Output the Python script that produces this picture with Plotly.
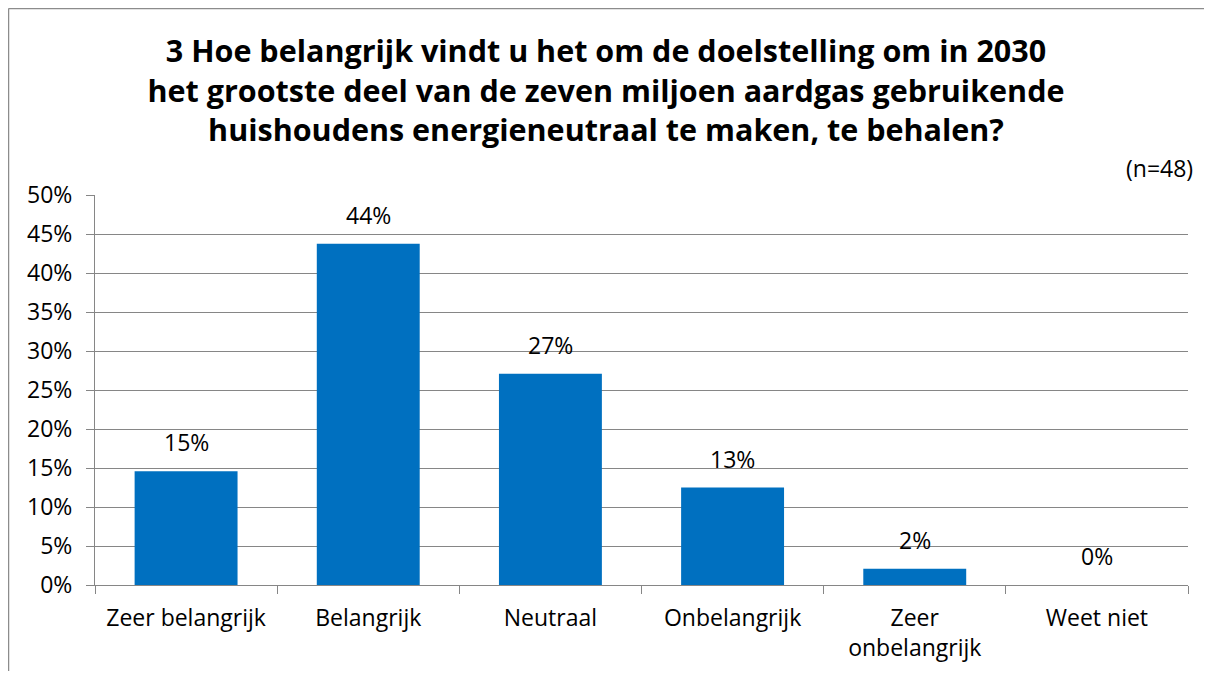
import plotly.graph_objects as go

categories = ["Zeer belangrijk", "Belangrijk", "Neutraal", "Onbelangrijk", "Zeer<br>onbelangrijk", "Weet niet"]
values = [14.58, 43.75, 27.08, 12.5, 2.08, 0.0]
labels = ["15%", "44%", "27%", "13%", "2%", "0%"]
y_ticks = [0, 5, 10, 15, 20, 25, 30, 35, 40, 45, 50]
y_ticklabels = [f"{v}%" for v in y_ticks]

# page body has an 8px margin; figure sized to fit the window
W, H = 1196, 663
L, T = 87, 187
R, B = W - 1180, H - 577
pw, ph = W - L - R, H - T - B

font = "Open Sans"
fs = 23

fig = go.Figure(go.Bar(
    x=categories, y=values,
    marker=dict(color="#0070C0", line=dict(width=0)),
    hoverinfo="x+y",
))

for c, v, t in zip(categories, values, labels):
    fig.add_annotation(
        x=c, y=v, text=t, showarrow=False, yanchor="bottom", yshift=11,
        font=dict(size=fs, family=font, color="#000000"),
    )

fig.update_layout(
    width=W, height=H,
    margin=dict(l=L, r=R, t=T, b=B, autoexpand=False),
    paper_bgcolor="white", plot_bgcolor="white",
    bargap=0.435,
    showlegend=False,
    font=dict(family=font, size=fs, color="#000000"),
    title=dict(
        text="<b>3 Hoe belangrijk vindt u het om de doelstelling om in 2030<br>het grootste deel van de zeven miljoen aardgas gebruikende<br>huishoudens energieneutraal te maken, te behalen?</b>",
        x=0.5, xanchor="center", y=1 - 54 / H, yanchor="top",
        font=dict(size=30.5, family=font, color="#000000"),
    ),
)

fig.update_yaxes(
    range=[0, 50], tickvals=y_ticks, ticktext=y_ticklabels,
    showgrid=True, gridcolor="#868686", gridwidth=1,
    showline=True, linecolor="#868686", linewidth=1,
    ticks="outside", ticklen=8, tickcolor="#868686",
    tickfont=dict(size=fs, family=font), zeroline=False,
    ticklabelstandoff=9,
)
fig.update_xaxes(
    showline=True, linecolor="#868686", linewidth=1,
    ticks="outside", ticklen=8, tickcolor="#868686", tickson="boundaries",
    tickfont=dict(size=fs, family=font),
    ticklabelstandoff=12,
)

fig.add_annotation(
    text="(n=48)", xref="paper", yref="paper",
    x=(1187 - L) / pw, y=1 + (T - 160) / ph, xanchor="right", yanchor="middle",
    showarrow=False, font=dict(size=fs, family=font, color="#000000"),
)

# chart frame (left and top edges visible in the window)
fig.add_shape(
    type="line", xref="paper", yref="paper",
    x0=(0.5 - L) / pw, x1=(0.5 - L) / pw, y0=1 + (T - 0.5) / ph, y1=-(B + 20) / ph,
    line=dict(color="#8c8c8c", width=1.5), layer="below",
)
fig.add_shape(
    type="line", xref="paper", yref="paper",
    x0=(0.5 - L) / pw, x1=(W + 20 - L) / pw, y0=1 + (T - 0.5) / ph, y1=1 + (T - 0.5) / ph,
    line=dict(color="#8c8c8c", width=1.5), layer="below",
)

fig.write_html("out.html")
